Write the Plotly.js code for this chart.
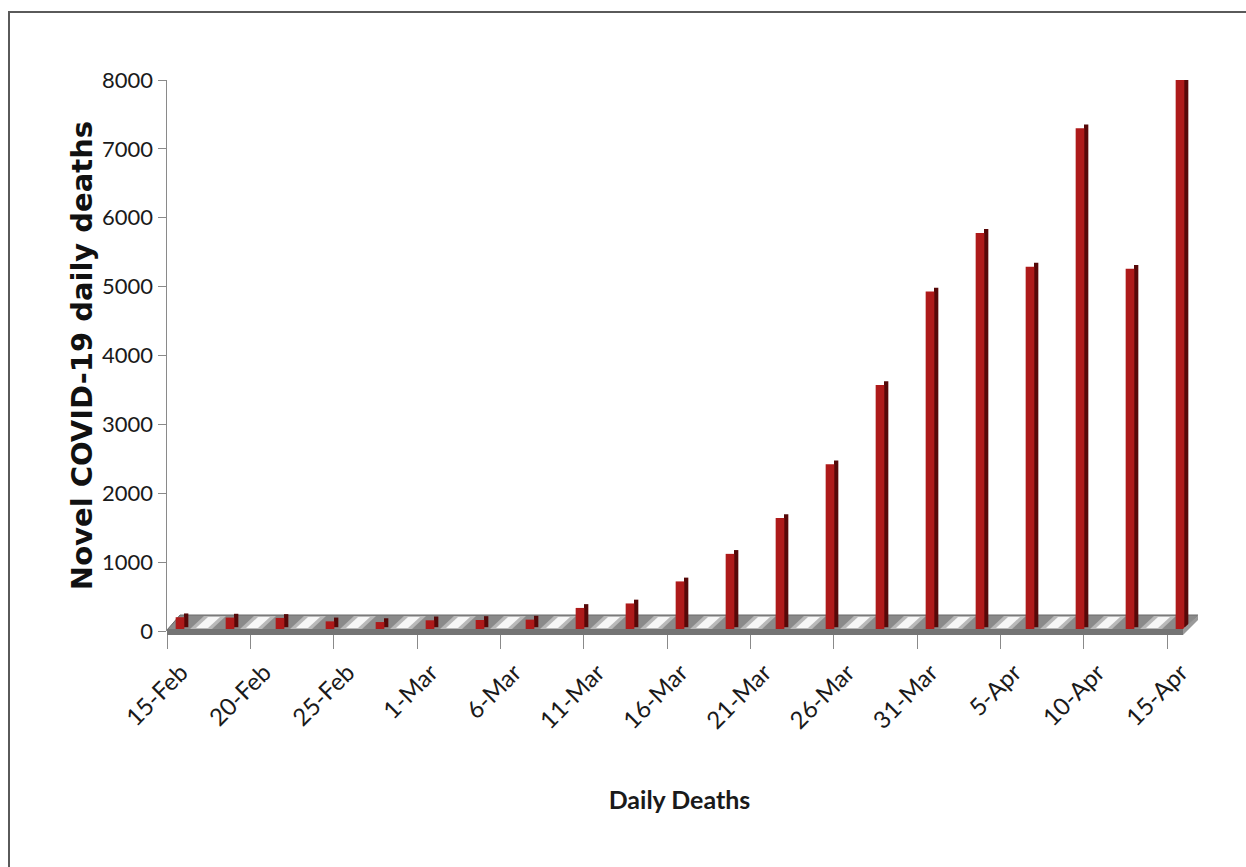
<!DOCTYPE html>
<html>
<head>
<meta charset="utf-8">
<script src="https://cdn.plot.ly/plotly-3.0.1.min.js"></script>
<style>
  html, body { margin: 0; padding: 0; background: #ffffff; }
  #chart { width: 1246px; height: 867px; }
</style>
</head>
<body>
<div id="chart"></div>
<script>
// Reporting dates (every third day) and the daily death counts for each
const reportDates = [
  '2020-02-15', '2020-02-18', '2020-02-21', '2020-02-24', '2020-02-27',
  '2020-03-01', '2020-03-04', '2020-03-07', '2020-03-10', '2020-03-13',
  '2020-03-16', '2020-03-19', '2020-03-22', '2020-03-25', '2020-03-28',
  '2020-03-31', '2020-04-03', '2020-04-06', '2020-04-09', '2020-04-12',
  '2020-04-15'
];
const dailyDeaths = [
  200, 195, 190, 140, 130,
  155, 160, 165, 335, 400,
  720, 1120, 1640, 2420, 3570,
  4930, 5780, 5290, 7300, 5260,
  8020
];

// Category ticks every five days
const tickDates = [
  '2020-02-15', '2020-02-20', '2020-02-25', '2020-03-01', '2020-03-06',
  '2020-03-11', '2020-03-16', '2020-03-21', '2020-03-26', '2020-03-31',
  '2020-04-05', '2020-04-10', '2020-04-15'
];
const tickLabels = [
  '15-Feb', '20-Feb', '25-Feb', '1-Mar', '6-Mar',
  '11-Mar', '16-Mar', '21-Mar', '26-Mar', '31-Mar',
  '5-Apr', '10-Apr', '15-Apr'
];
const yTicks = [0, 1000, 2000, 3000, 4000, 5000, 6000, 7000, 8000];

// Plot-area geometry in page pixels (61.5 days across the x range)
const plotLeft = 167, plotRight = 1192, plotTop = 80, plotBottom = 631;
const figW = 1246, figH = 867;
const px = x => (x - plotLeft) / (plotRight - plotLeft);
const py = y => (plotBottom - y) / (plotBottom - plotTop);
const DAY = 86400000;

// 3-D style column: lit front face plus a darker side face set back a little
const frontFace = {
  type: 'bar', x: reportDates, y: dailyDeaths,
  offset: 0.52 * DAY, width: 0.52 * DAY,
  marker: { color: '#ae1a1a', line: { width: 0 } },
  hoverinfo: 'x+y', showlegend: false
};
const sideFace = {
  type: 'bar', x: reportDates, y: dailyDeaths, base: 55,
  offset: 1.02 * DAY, width: 0.26 * DAY,
  marker: { color: '#560808', line: { width: 0 } },
  hoverinfo: 'skip', showlegend: false
};

// Floor slab under the columns
const poly = pts => 'M ' + pts.map(p => px(p[0]) + ',' + py(p[1])).join(' L ') + ' Z';
const shapes = [];
shapes.push({
  type: 'path', xref: 'paper', yref: 'paper', layer: 'below',
  path: poly([[167, 630], [1183, 630], [1198, 615], [180, 615]]),
  fillcolor: '#8a8a8a', line: { color: '#6a6a6a', width: 1 }
});
// glossy diagonal streaks between the columns
for (let i = 0; i < reportDates.length; i++) {
  const cx = 208 + 50 * i;
  if (cx > 1185) break;
  shapes.push({
    type: 'path', xref: 'paper', yref: 'paper', layer: 'below',
    path: poly([[cx - 18, 629], [cx + 4, 629], [cx + 18, 616], [cx - 4, 616]]),
    fillcolor: 'rgba(190,190,190,0.9)', line: { width: 0 }
  });
  shapes.push({
    type: 'path', xref: 'paper', yref: 'paper', layer: 'below',
    path: poly([[cx - 12, 628], [cx, 628], [cx + 12, 617], [cx, 617]]),
    fillcolor: 'rgba(250,250,250,0.95)', line: { width: 0 }
  });
}
// front edge and right end of the slab
shapes.push({
  type: 'path', xref: 'paper', yref: 'paper', layer: 'above',
  path: poly([[167, 629], [1183, 629], [1183, 635], [167, 635]]),
  fillcolor: '#747474', line: { width: 0 }
});
shapes.push({
  type: 'path', xref: 'paper', yref: 'paper', layer: 'above',
  path: poly([[1183, 629], [1198, 615], [1198, 620], [1183, 635]]),
  fillcolor: '#9a9a9a', line: { width: 0 }
});
// outer frame (top and left edges)
shapes.push({
  type: 'path', xref: 'paper', yref: 'paper', layer: 'above',
  path: 'M ' + px(9) + ',' + py(figH + 5) + ' L ' + px(9) + ',' + py(12) +
        ' L ' + px(figW + 5) + ',' + py(12),
  line: { color: '#5a5a5a', width: 2 }
});

const layout = {
  width: figW, height: figH,
  margin: { l: plotLeft, r: figW - plotRight, t: plotTop, b: figH - plotBottom, pad: 0 },
  paper_bgcolor: '#ffffff', plot_bgcolor: '#ffffff',
  barmode: 'overlay',
  showlegend: false,
  xaxis: {
    type: 'date',
    range: ['2020-02-15 00:00', '2020-04-16 12:00'],
    tickmode: 'array', tickvals: tickDates, ticktext: tickLabels,
    tickangle: -45, ticklabelshift: 14,
    ticks: 'outside', ticklen: 17, tickwidth: 1, tickcolor: '#8a8a8a',
    showline: false, showgrid: false, zeroline: false,
    tickfont: { family: 'Lato, sans-serif', size: 24, color: '#1a1a1a' },
    title: {
      text: '<b>Daily Deaths</b>', standoff: 58,
      font: { family: 'Lato, sans-serif', size: 25, color: '#1a1a1a' }
    }
  },
  yaxis: {
    range: [0, 8000],
    tickmode: 'array', tickvals: yTicks,
    ticks: 'outside', ticklen: 8, tickwidth: 1, tickcolor: '#8a8a8a',
    showline: true, linecolor: '#8a8a8a', linewidth: 1.5,
    showgrid: false, zeroline: false,
    tickfont: { family: 'Lato, sans-serif', size: 22, color: '#1a1a1a' },
    title: {
      text: '<b>Novel COVID-19 daily deaths</b>', standoff: 1,
      font: { family: 'DejaVu Sans, Verdana, sans-serif', size: 29, color: '#111111' }
    }
  },
  shapes: shapes
};

Plotly.newPlot('chart', [sideFace, frontFace], layout, { displayModeBar: false, staticPlot: true });
</script>
</body>
</html>
